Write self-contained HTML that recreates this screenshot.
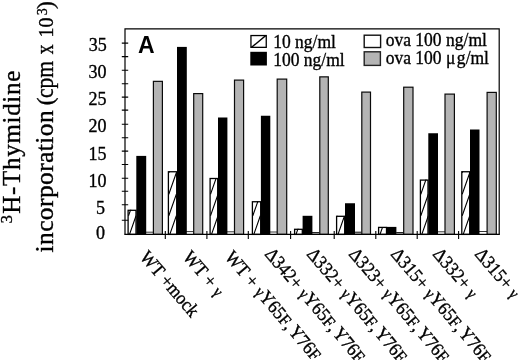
<!DOCTYPE html>
<html><head><meta charset="utf-8"><title>chart</title><style>html,body{margin:0;padding:0;background:#fff;}body{width:520px;height:360px;overflow:hidden;}</style></head><body>
<svg width="520" height="360" viewBox="0 0 520 360" style="display:block;will-change:transform;filter:grayscale(1)">
<rect width="520" height="360" fill="#fff"/>
<defs><clipPath id="c0"><rect x="128" y="209.8" width="8.5" height="24.599999999999994"/></clipPath><clipPath id="c1"><rect x="168.3" y="171.25" width="8.899999999999977" height="63.150000000000006"/></clipPath><clipPath id="c2"><rect x="210" y="178" width="8.199999999999989" height="56.400000000000006"/></clipPath><clipPath id="c3"><rect x="252.3" y="201.25" width="8.899999999999977" height="33.150000000000006"/></clipPath><clipPath id="c4"><rect x="294.5" y="228.8" width="8.300000000000011" height="5.599999999999994"/></clipPath><clipPath id="c5"><rect x="336.5" y="215.8" width="8.699999999999989" height="18.599999999999994"/></clipPath><clipPath id="c6"><rect x="378.5" y="226.9" width="8.5" height="7.5"/></clipPath><clipPath id="c7"><rect x="420.3" y="179.6" width="8.199999999999989" height="54.80000000000001"/></clipPath><clipPath id="c8"><rect x="461.7" y="171.25" width="8.5" height="63.150000000000006"/></clipPath></defs>
<rect x="145.8" y="231.8" width="7.699999999999989" height="2.5999999999999943" fill="#fff"/>
<path d="M145.8 232.20000000000002 L153.5 232.20000000000002" stroke="#000" stroke-width="0.8"/>
<rect x="128.1" y="210.3" width="7.9" height="24.099999999999994" fill="#fff" stroke="#000" stroke-width="1.3"/>
<path d="M128.5 237.3 L136.05 215.8 M128.5 215.8 L136.05 194.3 M128.5 194.3 L136.05 172.8" stroke="#000" stroke-width="1.1" fill="none" clip-path="url(#c0)"/>
<rect x="136.3" y="155.9" width="9.899999999999977" height="78.5" fill="#000"/>
<rect x="153.4" y="81.35" width="8.99999999999999" height="153.05" fill="#b4b4b4" stroke="#0a0a0a" stroke-width="1.2"/>
<rect x="185.8" y="231.2" width="7.699999999999989" height="3.200000000000017" fill="#fff"/>
<path d="M185.8 231.6 L193.5 231.6" stroke="#000" stroke-width="0.8"/>
<rect x="168.4" y="171.75" width="8.299999999999978" height="62.650000000000006" fill="#fff" stroke="#000" stroke-width="1.3"/>
<path d="M168.8 237.3 L176.35000000000002 215.8 M168.8 215.8 L176.35000000000002 194.3 M168.8 194.3 L176.35000000000002 172.8 M168.8 172.8 L176.35000000000002 151.3 M168.8 151.3 L176.35000000000002 129.8" stroke="#000" stroke-width="1.1" fill="none" clip-path="url(#c1)"/>
<rect x="177" y="46.9" width="9.800000000000011" height="187.5" fill="#000"/>
<rect x="193.7" y="93.6" width="9.000000000000018" height="140.8" fill="#b4b4b4" stroke="#0a0a0a" stroke-width="1.2"/>
<rect x="227" y="231.4" width="7.5" height="3.0" fill="#fff"/>
<path d="M227 231.8 L234.5 231.8" stroke="#000" stroke-width="0.8"/>
<rect x="210.1" y="178.5" width="7.599999999999989" height="55.900000000000006" fill="#fff" stroke="#000" stroke-width="1.3"/>
<path d="M210.5 237.3 L218.05 215.8 M210.5 215.8 L218.05 194.3 M210.5 194.3 L218.05 172.8 M210.5 172.8 L218.05 151.3" stroke="#000" stroke-width="1.1" fill="none" clip-path="url(#c2)"/>
<rect x="218" y="117.5" width="9.400000000000006" height="116.9" fill="#000"/>
<rect x="234.5" y="80.1" width="9.099999999999984" height="154.3" fill="#b4b4b4" stroke="#0a0a0a" stroke-width="1.2"/>
<rect x="269.8" y="231.6" width="7.699999999999989" height="2.8000000000000114" fill="#fff"/>
<path d="M269.8 232.0 L277.5 232.0" stroke="#000" stroke-width="0.8"/>
<rect x="252.4" y="201.75" width="8.299999999999978" height="32.650000000000006" fill="#fff" stroke="#000" stroke-width="1.3"/>
<path d="M252.8 237.3 L260.35 215.8 M252.8 215.8 L260.35 194.3 M252.8 194.3 L260.35 172.8" stroke="#000" stroke-width="1.1" fill="none" clip-path="url(#c3)"/>
<rect x="260.9" y="115.75" width="9.400000000000034" height="118.65" fill="#000"/>
<rect x="277.20000000000005" y="79.1" width="9.49999999999999" height="155.3" fill="#b4b4b4" stroke="#0a0a0a" stroke-width="1.2"/>
<rect x="312" y="232.1" width="7.5" height="2.3000000000000114" fill="#a8a8a8"/>
<path d="M312 232.5 L319.5 232.5" stroke="#000" stroke-width="0.8"/>
<rect x="294.6" y="229.3" width="7.700000000000012" height="5.099999999999994" fill="#fff" stroke="#000" stroke-width="1.3"/>
<path d="M295.0 237.3 L302.55 215.8 M295.0 215.8 L302.55 194.3" stroke="#000" stroke-width="1.1" fill="none" clip-path="url(#c4)"/>
<rect x="302.6" y="215.8" width="9.799999999999955" height="18.599999999999994" fill="#000"/>
<rect x="319.8" y="76.85" width="8.49999999999999" height="157.55" fill="#b4b4b4" stroke="#0a0a0a" stroke-width="1.2"/>
<rect x="354.8" y="231.8" width="6.699999999999989" height="2.5999999999999943" fill="#a8a8a8"/>
<path d="M354.8 232.20000000000002 L361.5 232.20000000000002" stroke="#000" stroke-width="0.8"/>
<rect x="336.6" y="216.3" width="8.099999999999989" height="18.099999999999994" fill="#fff" stroke="#000" stroke-width="1.3"/>
<path d="M337.0 237.3 L344.55 215.8 M337.0 215.8 L344.55 194.3" stroke="#000" stroke-width="1.1" fill="none" clip-path="url(#c5)"/>
<rect x="345" y="203.25" width="10" height="31.150000000000006" fill="#000"/>
<rect x="361.8" y="92.1" width="8.700000000000035" height="142.3" fill="#b4b4b4" stroke="#0a0a0a" stroke-width="1.2"/>
<rect x="396.2" y="232.1" width="7.300000000000011" height="2.3000000000000114" fill="#a8a8a8"/>
<path d="M396.2 232.5 L403.5 232.5" stroke="#000" stroke-width="0.8"/>
<rect x="378.6" y="227.4" width="7.9" height="7.0" fill="#fff" stroke="#000" stroke-width="1.3"/>
<path d="M379.0 237.3 L386.55 215.8 M379.0 215.8 L386.55 194.3" stroke="#000" stroke-width="1.1" fill="none" clip-path="url(#c6)"/>
<rect x="386.8" y="226.9" width="9.599999999999966" height="7.5" fill="#000"/>
<rect x="403.70000000000005" y="87.19999999999999" width="9.3" height="147.20000000000002" fill="#b4b4b4" stroke="#0a0a0a" stroke-width="1.2"/>
<rect x="437.5" y="231.4" width="7.5" height="3.0" fill="#fff"/>
<path d="M437.5 231.8 L445 231.8" stroke="#000" stroke-width="0.8"/>
<rect x="420.40000000000003" y="180.1" width="7.599999999999989" height="54.30000000000001" fill="#fff" stroke="#000" stroke-width="1.3"/>
<path d="M420.8 237.3 L428.35 215.8 M420.8 215.8 L428.35 194.3 M420.8 194.3 L428.35 172.8 M420.8 172.8 L428.35 151.3" stroke="#000" stroke-width="1.1" fill="none" clip-path="url(#c7)"/>
<rect x="428.3" y="133.25" width="9.699999999999989" height="101.15" fill="#000"/>
<rect x="445.0" y="94.1" width="9.400000000000023" height="140.3" fill="#b4b4b4" stroke="#0a0a0a" stroke-width="1.2"/>
<rect x="479" y="231.1" width="8" height="3.3000000000000114" fill="#fff"/>
<path d="M479 231.5 L487 231.5" stroke="#000" stroke-width="0.8"/>
<rect x="461.8" y="171.75" width="7.9" height="62.650000000000006" fill="#fff" stroke="#000" stroke-width="1.3"/>
<path d="M462.2 237.3 L469.75 215.8 M462.2 215.8 L469.75 194.3 M462.2 194.3 L469.75 172.8 M462.2 172.8 L469.75 151.3 M462.2 151.3 L469.75 129.8" stroke="#000" stroke-width="1.1" fill="none" clip-path="url(#c8)"/>
<rect x="470" y="129.5" width="9.5" height="104.9" fill="#000"/>
<rect x="487.1" y="92.39999999999999" width="9.199999999999978" height="142.00000000000003" fill="#b4b4b4" stroke="#0a0a0a" stroke-width="1.2"/>
<path d="M125.0 234.4 L125.0 28.8 L499.2 28.8 L499.2 234.4" fill="none" stroke="#000" stroke-width="1.2"/>
<path d="M124.4 234.4 L499.8 234.4" fill="none" stroke="#000" stroke-width="1.2"/>
<path d="M121.8 43.10 L128.2 43.10 M121.8 56.60 L128.2 56.60 M121.8 70.25 L128.2 70.25 M121.8 83.75 L128.2 83.75 M121.8 97.10 L128.2 97.10 M121.8 110.10 L128.2 110.10 M121.8 124.30 L128.2 124.30 M121.8 137.70 L128.2 137.70 M121.8 151.10 L128.2 151.10 M121.8 164.50 L128.2 164.50 M121.8 178.30 L128.2 178.30 M121.8 191.30 L128.2 191.30 M121.8 204.70 L128.2 204.70 M121.8 220.30 L128.2 220.30" stroke="#000" stroke-width="1.1" fill="none"/>
<path d="M165.3 231.1 L165.3 239.1 M206.9 231.1 L206.9 239.1 M248.3 231.1 L248.3 239.1 M290.6 231.1 L290.6 239.1 M334.2 231.1 L334.2 239.1 M375.8 231.1 L375.8 239.1 M417.2 231.1 L417.2 239.1 M458.6 231.1 L458.6 239.1" stroke="#000" stroke-width="1.1" fill="none"/>
<text transform="translate(106.8,50.80) rotate(0.02) scale(0.95,1)" font-family="Liberation Serif, serif" stroke="#000" stroke-width="0.35" font-size="19" text-anchor="end" fill="#000">35</text>
<text transform="translate(106.5,77.67) rotate(0.02) scale(0.95,1)" font-family="Liberation Serif, serif" stroke="#000" stroke-width="0.35" font-size="19" text-anchor="end" fill="#000">30</text>
<text transform="translate(106.5,105.04) rotate(0.02) scale(0.95,1)" font-family="Liberation Serif, serif" stroke="#000" stroke-width="0.35" font-size="19" text-anchor="end" fill="#000">25</text>
<text transform="translate(106.5,132.31) rotate(0.02) scale(0.95,1)" font-family="Liberation Serif, serif" stroke="#000" stroke-width="0.35" font-size="19" text-anchor="end" fill="#000">20</text>
<text transform="translate(106.5,159.59) rotate(0.02) scale(0.95,1)" font-family="Liberation Serif, serif" stroke="#000" stroke-width="0.35" font-size="19" text-anchor="end" fill="#000">15</text>
<text transform="translate(106.5,186.66) rotate(0.02) scale(0.95,1)" font-family="Liberation Serif, serif" stroke="#000" stroke-width="0.35" font-size="19" text-anchor="end" fill="#000">10</text>
<text transform="translate(105.0,213.83) rotate(0.02) scale(0.95,1)" font-family="Liberation Serif, serif" stroke="#000" stroke-width="0.35" font-size="19" text-anchor="end" fill="#000">5</text>
<text transform="translate(105.0,239.30) rotate(0.02) scale(0.95,1)" font-family="Liberation Serif, serif" stroke="#000" stroke-width="0.35" font-size="19" text-anchor="end" fill="#000">0</text>
<text transform="translate(138,53.2) rotate(0.02)" font-family="Liberation Sans, sans-serif" font-weight="bold" font-size="23" fill="#000">A</text>
<clipPath id="lg"><rect x="250.9" y="35.5" width="15.4" height="11.9"/></clipPath>
<rect x="250.95" y="35.55" width="15.3" height="11.8" fill="#fff" stroke="#000" stroke-width="1.3"/>
<path d="M251.2 47.6 L266.2 35.2" stroke="#000" stroke-width="1.4" clip-path="url(#lg)"/>
<rect x="250.3" y="51.8" width="16.6" height="13.7" fill="#000"/>
<rect x="364.2" y="35.2" width="16.4" height="12.3" fill="#fff" stroke="#111" stroke-width="1.4"/>
<rect x="364.2" y="51.8" width="16.2" height="13.6" fill="#b4b4b4" stroke="#222" stroke-width="1.4"/>
<text transform="translate(273.2,48.1) rotate(0.02) scale(0.922,1)" font-family="Liberation Serif, serif" stroke="#000" stroke-width="0.35" font-size="19">10 ng/ml</text>
<text transform="translate(273.2,65.8) rotate(0.02) scale(0.922,1)" font-family="Liberation Serif, serif" stroke="#000" stroke-width="0.35" font-size="19">100 ng/ml</text>
<text transform="translate(385.7,46.3) rotate(0.02) scale(0.922,1)" font-family="Liberation Serif, serif" stroke="#000" stroke-width="0.35" font-size="19">ova 100 ng/ml</text>
<text transform="translate(385.7,64.3) rotate(0.02) scale(0.922,1)" font-family="Liberation Serif, serif" stroke="#000" stroke-width="0.35" font-size="19">ova 100 μ<tspan dx="1.6">g</tspan>/ml</text>
<text transform="translate(139,257.5) rotate(49.5) scale(0.92,1)" font-family="Liberation Serif, serif" stroke="#000" stroke-width="0.35" font-size="19" letter-spacing="0">WT +mock</text>
<text transform="translate(182,257.5) rotate(49.5) scale(0.92,1)" font-family="Liberation Serif, serif" stroke="#000" stroke-width="0.35" font-size="19" letter-spacing="0">WT + <tspan font-size="16" dx="0.8">γ</tspan></text>
<text transform="translate(224,257.5) rotate(49.5) scale(0.92,1)" font-family="Liberation Serif, serif" stroke="#000" stroke-width="0.35" font-size="19" letter-spacing="0">WT + <tspan font-size="16" dx="0.8">γ</tspan>Y65<tspan font-size="17.3">F</tspan>,<tspan dx="2.2">Y</tspan>76<tspan font-size="17.3">F</tspan></text>
<text transform="translate(264,254.5) rotate(49.5) scale(0.92,1)" font-family="Liberation Serif, serif" stroke="#000" stroke-width="0.35" font-size="19" letter-spacing="0">Δ342+ <tspan font-size="16" dx="0.8">γ</tspan>Y65<tspan font-size="17.3">F</tspan>,<tspan dx="2.2">Y</tspan>76<tspan font-size="17.3">F</tspan></text>
<text transform="translate(306,254.5) rotate(49.5) scale(0.92,1)" font-family="Liberation Serif, serif" stroke="#000" stroke-width="0.35" font-size="19" letter-spacing="0">Δ332+ <tspan font-size="16" dx="0.8">γ</tspan>Y65<tspan font-size="17.3">F</tspan>,<tspan dx="2.2">Y</tspan>76<tspan font-size="17.3">F</tspan></text>
<text transform="translate(348,254.5) rotate(49.5) scale(0.92,1)" font-family="Liberation Serif, serif" stroke="#000" stroke-width="0.35" font-size="19" letter-spacing="0">Δ323+ <tspan font-size="16" dx="0.8">γ</tspan>Y65<tspan font-size="17.3">F</tspan>,<tspan dx="2.2">Y</tspan>76<tspan font-size="17.3">F</tspan></text>
<text transform="translate(390,254.5) rotate(49.5) scale(0.92,1)" font-family="Liberation Serif, serif" stroke="#000" stroke-width="0.35" font-size="19" letter-spacing="0">Δ315+ <tspan font-size="16" dx="0.8">γ</tspan>Y65<tspan font-size="17.3">F</tspan>,<tspan dx="2.2">Y</tspan>76<tspan font-size="17.3">F</tspan></text>
<text transform="translate(432,254.5) rotate(49.5) scale(0.92,1)" font-family="Liberation Serif, serif" stroke="#000" stroke-width="0.35" font-size="19" letter-spacing="0">Δ332+ <tspan font-size="16" dx="0.8">γ</tspan></text>
<text transform="translate(474,254.5) rotate(49.5) scale(0.92,1)" font-family="Liberation Serif, serif" stroke="#000" stroke-width="0.35" font-size="19" letter-spacing="0">Δ315+ <tspan font-size="16" dx="0.8">γ</tspan></text>
<text transform="translate(11.9,223.4) rotate(-90) scale(1,1)" font-family="Liberation Serif, serif" stroke="#000" stroke-width="0.35" font-size="17" letter-spacing="0">3</text>
<text transform="translate(20.1,213.7) rotate(-90) scale(0.96,1)" font-family="Liberation Serif, serif" stroke="#000" stroke-width="0.35" font-size="26" letter-spacing="0.75">H-Thymidine</text>
<text transform="translate(52.7,252.5) rotate(-90) scale(1,1)" font-family="Liberation Serif, serif" stroke="#000" stroke-width="0.35" font-size="25.5" letter-spacing="0.4">incorporation</text>
<text transform="translate(53,105.3) rotate(-90) scale(1,1)" font-family="Liberation Serif, serif" stroke="#000" stroke-width="0.35" font-size="23.5" letter-spacing="0">(</text>
<text transform="translate(52.7,98) rotate(-90) scale(0.88,1)" font-family="Liberation Serif, serif" stroke="#000" stroke-width="0.35" font-size="24.5" letter-spacing="0">cpm</text>
<text transform="translate(52.7,54.3) rotate(-90) scale(0.8,1)" font-family="Liberation Serif, serif" stroke="#000" stroke-width="0.35" font-size="24.5" letter-spacing="0">x</text>
<text transform="translate(52.7,37.5) rotate(-90) scale(0.93,1)" font-family="Liberation Serif, serif" stroke="#000" stroke-width="0.35" font-size="21.5" letter-spacing="0">10</text>
<text transform="translate(46.5,15.3) rotate(-90) scale(0.9,1)" font-family="Liberation Serif, serif" stroke="#000" stroke-width="0.35" font-size="15.5" letter-spacing="0">3</text>
<text transform="translate(53,9) rotate(-90) scale(1,1)" font-family="Liberation Serif, serif" stroke="#000" stroke-width="0.35" font-size="23.5" letter-spacing="0">)</text>
</svg>
</body></html>
